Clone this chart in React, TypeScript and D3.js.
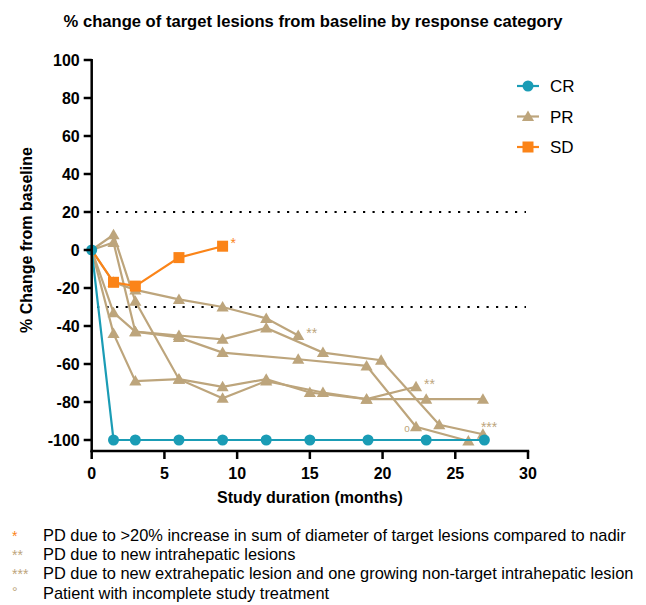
import React from 'react';
import * as d3 from 'd3';

// months and % change
const crMonths = [0, 1.5, 3, 6, 9, 12, 15, 19, 23, 27];
const crValues = [0, -100, -100, -100, -100, -100, -100, -100, -100, -100];

const sdMonths = [0, 1.5, 3, 6, 9];
const sdValues = [0, -17, -19, -4, 2];

const prMonths = [
  [0, 1.5, 3, 6, 9, 12, 14.2],
  [0, 1.5, 3, 6, 9, 12, 15.9, 18.9, 23, 26.9],
  [0, 1.5, 3, 6, 9, 12, 15.9, 19.9, 23.9, 26.9],
  [0, 1.5, 3, 6, 9, 14.2, 18.9, 22.3, 25.9],
  [0, 1.5, 3, 6, 9, 12, 15, 18.9, 22.3],
];
const prValues = [
  [0, -17, -21, -26, -30, -36, -45],
  [0, 8, -27, -68, -78, -69, -75, -78.5, -78.5, -78.5],
  [0, 4, -43, -45, -47, -41, -54, -58, -92, -97],
  [0, -33, -43, -46, -54, -57.5, -61, -93, -100.5],
  [0, -44, -69, -68, -72, -68, -75, -78.5, -72],
];

// footnote markers placed next to points: [month, value, label, series]
const markMonths = [9, 14.2, 22.3, 22.3, 26.9];
const markValues = [2, -45, -72, -93, -97];
const markLabels = ['*', '**', '**', 'o', '***'];
const markSeries = ['SD', 'PR', 'PR', 'PR', 'PR'];

const yTicks = [-100, -80, -60, -40, -20, 0, 20, 40, 60, 80, 100];
const xTicks = [0, 5, 10, 15, 20, 25, 30];
const refLines = [20, -30];

const legendNames = ['CR', 'PR', 'SD'];

const footSymbols = ['*', '**', '***', '°'];
const footTexts = [
  'PD due to >20% increase in sum of diameter of target lesions compared to nadir',
  'PD due to new intrahepatic lesions',
  'PD due to new extrahepatic lesion and one growing non-target intrahepatic lesion',
  'Patient with incomplete study treatment',
];
const footSeries = ['SD', 'PR', 'PR', 'PR'];

const colors: Record<string, string> = { CR: '#1a9cb5', PR: '#bda57c', SD: '#fb8418' };
const font = 'Liberation Sans, Arial, sans-serif';

const App = () => {
  const width = 646;
  const height = 605;
  const x = d3.scaleLinear().domain([0, 30]).range([91.7, 528]);
  const y = d3.scaleLinear().domain([-100, 100]).range([440, 60]);
  const axisY = 451;

  const line = d3
    .line<[number, number]>()
    .x((d) => x(d[0]))
    .y((d) => y(d[1]));
  const tri = d3.symbol().type(d3.symbolTriangle).size(64)() as string;

  const zip = (ms: number[], vs: number[]) => ms.map((m, i) => [m, vs[i]] as [number, number]);

  const marker = (kind: string, cx: number, cy: number, key: string) => {
    if (kind === 'CR') return <circle key={key} cx={cx} cy={cy} r={5.5} fill={colors.CR} />;
    if (kind === 'SD')
      return <rect key={key} x={cx - 5.5} y={cy - 5.5} width={11} height={11} fill={colors.SD} />;
    return <path key={key} d={tri} transform={`translate(${cx},${cy + 1})`} fill={colors.PR} />;
  };

  return (
    <svg width={width} height={height} style={{ position: 'absolute', left: 0, top: 0 }}>
      <rect width={width} height={height} fill="#fff" />
      <text x={313} y={27} textAnchor="middle" fontFamily={font} fontWeight="bold" fontSize={16.6}>
        % change of target lesions from baseline by response category
      </text>

      {/* reference lines */}
      {refLines.map((v) => (
        <line
          key={v}
          x1={97}
          x2={526}
          y1={y(v)}
          y2={y(v)}
          stroke="#000"
          strokeWidth={2.2}
          strokeDasharray="2.2 7.3"
        />
      ))}

      {/* PR */}
      {prMonths.map((ms, i) => (
        <g key={'pr' + i}>
          <path d={line(zip(ms, prValues[i])) || ''} fill="none" stroke={colors.PR} strokeWidth={2.2} />
          {zip(ms, prValues[i])
            .slice(1)
            .map((d, j) => marker('PR', x(d[0]), y(d[1]), `p${i}-${j}`))}
        </g>
      ))}

      {/* SD */}
      <path d={line(zip(sdMonths, sdValues)) || ''} fill="none" stroke={colors.SD} strokeWidth={2.2} />
      {zip(sdMonths, sdValues)
        .slice(1)
        .map((d, j) => marker('SD', x(d[0]), y(d[1]), `s${j}`))}

      {/* CR */}
      <path d={line(zip(crMonths, crValues)) || ''} fill="none" stroke={colors.CR} strokeWidth={2.2} />
      {zip(crMonths, crValues).map((d, j) => marker('CR', x(d[0]), y(d[1]), `c${j}`))}

      {/* point annotations */}
      {markLabels.map((lab, i) => {
        const isO = lab === 'o';
        const dx = lab === 'o' ? -9 : lab === '***' ? -2 : 8;
        const dy = isO ? 5 : lab === '***' ? -2 : 2;
        return (
          <text
            key={'m' + i}
            x={x(markMonths[i]) + dx}
            y={y(markValues[i]) + dy}
            textAnchor={isO ? 'middle' : 'start'}
            fontFamily={font}
            fontSize={isO ? 10 : 14}
            fill={colors[markSeries[i]]}
          >
            {lab}
          </text>
        );
      })}

      {/* axes */}
      <g stroke="#000" strokeWidth={2.5}>
        <line x1={x(0)} x2={x(0)} y1={y(100) - 1} y2={axisY + 1.2} />
        <line x1={x(0) - 1.2} x2={x(30) + 1.2} y1={axisY} y2={axisY} />
        {yTicks.map((t) => (
          <line key={'yt' + t} x1={x(0) - 8} x2={x(0)} y1={y(t)} y2={y(t)} />
        ))}
        {xTicks.map((t) => (
          <line key={'xt' + t} x1={x(t)} x2={x(t)} y1={axisY} y2={axisY + 8} />
        ))}
      </g>
      {yTicks.map((t) => (
        <text
          key={'yl' + t}
          x={x(0) - 12}
          y={y(t) + 5.5}
          textAnchor="end"
          fontFamily={font}
          fontWeight="bold"
          fontSize={16}
        >
          {t}
        </text>
      ))}
      {xTicks.map((t) => (
        <text
          key={'xl' + t}
          x={x(t)}
          y={479}
          textAnchor="middle"
          fontFamily={font}
          fontWeight="bold"
          fontSize={16}
        >
          {t}
        </text>
      ))}
      <text x={310} y={503} textAnchor="middle" fontFamily={font} fontWeight="bold" fontSize={16}>
        Study duration (months)
      </text>
      <text
        transform="translate(32,240) rotate(-90)"
        textAnchor="middle"
        fontFamily={font}
        fontWeight="bold"
        fontSize={16}
      >
        % Change from baseline
      </text>

      {/* legend */}
      {legendNames.map((n, i) => {
        const ly = 86 + i * 30.5;
        return (
          <g key={n}>
            <line x1={517} x2={539} y1={ly} y2={ly} stroke={colors[n]} strokeWidth={2.2} />
            {marker(n, 528, ly, 'lg' + n)}
            <text x={550} y={ly + 6} fontFamily={font} fontSize={17}>
              {n}
            </text>
          </g>
        );
      })}

      {/* footnotes */}
      {footTexts.map((t, i) => {
        const fy = 541 + i * 19.2;
        return (
          <g key={'f' + i}>
            <text x={12} y={fy + (i === 3 ? -2 : 0)} fontFamily={font} fontSize={14} fill={colors[footSeries[i]]}>
              {footSymbols[i]}
            </text>
            <text x={43} y={fy} fontFamily={font} fontSize={16.4}>
              {t}
            </text>
          </g>
        );
      })}
    </svg>
  );
};

export default App;
